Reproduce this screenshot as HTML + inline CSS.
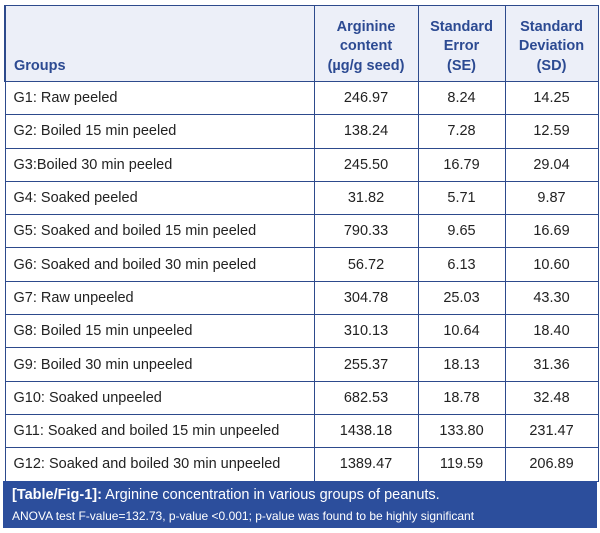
<!DOCTYPE html>
<html><head><style>
body{margin:0;width:600px;height:533px;background:#fff;position:relative;font-family:"Liberation Sans",sans-serif;overflow:hidden}
.t{position:absolute;left:4px;top:5px;width:593px;border-collapse:collapse;table-layout:fixed}
.t td,.t th{border:1px solid #2d4a8c;font-size:14.5px;color:#222;padding:0;height:32.3px;line-height:16px}
.t td{text-align:center}
.t td:first-child{text-align:left;padding-left:8px}
.t th{background:#eceff8;color:#2c4a92;font-weight:bold;height:70px;vertical-align:bottom;padding-bottom:5px;line-height:19.5px}
.t th:first-child{text-align:left;padding-left:8px;border-left-width:2px}
.cap{position:absolute;left:3px;top:481px;width:594px;height:47px;background:#2c4e9c;color:#fff}
.cap .a{position:absolute;left:9px;top:6px;font-size:14.5px}
.cap .b{position:absolute;left:9px;top:28px;font-size:12px}
</style></head><body>
<table class="t">
<colgroup><col style="width:309px"><col style="width:104px"><col style="width:87px"><col style="width:93px"></colgroup>
<tr><th>Groups</th><th>Arginine<br>content<br>(µg/g seed)</th><th>Standard<br>Error<br>(SE)</th><th>Standard<br>Deviation<br>(SD)</th></tr>
<tr><td>G1: Raw peeled</td><td>246.97</td><td>8.24</td><td>14.25</td></tr>
<tr><td>G2: Boiled 15 min peeled</td><td>138.24</td><td>7.28</td><td>12.59</td></tr>
<tr><td>G3:Boiled 30 min peeled</td><td>245.50</td><td>16.79</td><td>29.04</td></tr>
<tr><td>G4: Soaked peeled</td><td>31.82</td><td>5.71</td><td>9.87</td></tr>
<tr><td>G5: Soaked and boiled 15 min peeled</td><td>790.33</td><td>9.65</td><td>16.69</td></tr>
<tr><td>G6: Soaked and boiled 30 min peeled</td><td>56.72</td><td>6.13</td><td>10.60</td></tr>
<tr><td>G7: Raw unpeeled</td><td>304.78</td><td>25.03</td><td>43.30</td></tr>
<tr><td>G8: Boiled 15 min unpeeled</td><td>310.13</td><td>10.64</td><td>18.40</td></tr>
<tr><td>G9: Boiled 30 min unpeeled</td><td>255.37</td><td>18.13</td><td>31.36</td></tr>
<tr><td>G10: Soaked unpeeled</td><td>682.53</td><td>18.78</td><td>32.48</td></tr>
<tr><td>G11: Soaked and boiled 15 min unpeeled</td><td>1438.18</td><td>133.80</td><td>231.47</td></tr>
<tr><td>G12: Soaked and boiled 30 min unpeeled</td><td>1389.47</td><td>119.59</td><td>206.89</td></tr>
</table>
<div class="cap"><div class="a"><b>[Table/Fig-1]:</b> Arginine concentration in various groups of peanuts.</div><div class="b">ANOVA test F-value=132.73, p-value &lt;0.001; p-value was found to be highly significant</div></div>
</body></html>
